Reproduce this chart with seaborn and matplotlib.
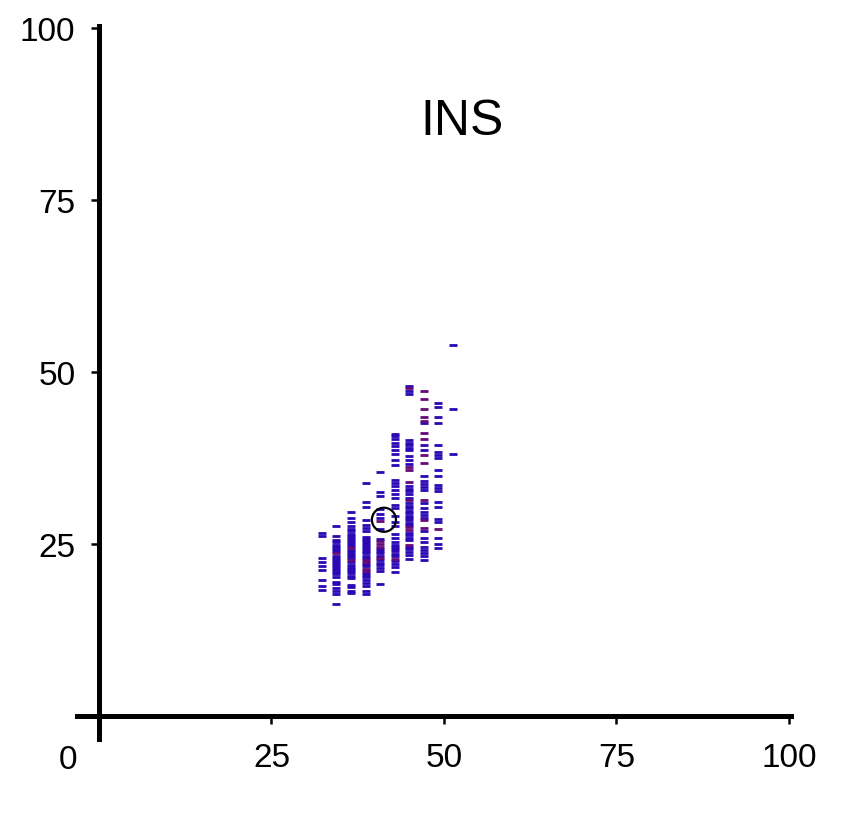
import matplotlib
matplotlib.use("Agg")
import matplotlib.pyplot as plt
import seaborn as sns
import pandas as pd

# ---- data ----
col_x = [32.3, 34.3, 36.5, 38.7, 40.7, 42.9, 44.9, 47.1, 49.1, 51.3]

blue_y = [
    [26.6, 26.1, 23.0, 22.4, 21.8, 21.2, 19.8, 18.9, 18.3],
    [27.6, 26.2, 25.6, 25.2, 24.8, 24.5, 24.2, 23.9, 23.3, 23.0, 22.7, 22.4, 22.1,
     21.8, 21.5, 21.2, 20.9, 20.6, 20.2, 19.5, 19.1, 18.6, 18.1, 17.7, 16.2],
    [29.7, 28.8, 28.2, 27.6, 27.2, 26.8, 26.5, 26.2, 25.9, 25.6, 25.3, 25.0, 24.7,
     24.1, 23.8, 23.5, 23.2, 22.9, 22.3, 22.0, 21.7, 21.4, 21.1, 20.8, 20.4, 20.1,
     19.0, 18.7, 18.1, 17.8],
    [33.8, 31.1, 30.3, 28.5, 27.7, 27.3, 26.8, 26.0, 25.7, 25.4, 25.1, 24.8, 24.5,
     24.2, 23.9, 23.6, 23.3, 23.0, 22.1, 21.8, 20.8, 20.5, 20.2, 19.7, 19.3, 18.9,
     18.2, 17.7],
    [35.5, 32.6, 32.0, 30.0, 29.4, 28.7, 27.1, 25.7, 24.2, 23.9, 23.6, 23.3, 22.6,
     22.2, 21.9, 21.5, 21.0, 19.2],
    [41.0, 40.6, 40.2, 39.6, 39.2, 38.7, 38.1, 37.2, 36.4, 34.3, 33.8, 33.4, 32.8,
     32.3, 31.7, 30.6, 30.2, 29.1, 28.2, 27.6, 26.4, 25.8, 25.3, 24.9, 24.5, 24.2,
     23.9, 23.5, 23.2, 22.5, 22.1, 21.7, 20.9],
    [48.0, 47.2, 46.7, 40.1, 39.7, 39.3, 38.9, 38.6, 37.8, 37.2, 36.6, 33.4, 33.0,
     32.7, 32.3, 31.6, 31.0, 30.5, 30.2, 29.8, 29.5, 29.1, 28.8, 28.4, 28.1, 27.8,
     26.6, 26.3, 25.8, 25.5, 24.6, 24.2, 23.8, 23.4, 22.8],
    [42.5, 39.3, 38.7, 34.9, 34.1, 33.7, 33.2, 32.8, 31.0, 30.2, 29.6, 29.2, 28.8,
     26.8, 25.9, 25.3, 24.5, 24.1, 23.6, 23.2, 22.7],
    [45.5, 44.9, 43.4, 42.5, 39.3, 38.4, 37.9, 37.5, 35.8, 34.9, 33.6, 33.1, 32.7,
     31.1, 30.3, 28.6, 28.2, 25.9, 25.0, 24.4],
    [53.9, 44.6, 38.1],
]

purple_y = [
    [],
    [23.6],
    [24.4, 22.6],
    [22.7, 22.4, 21.4, 21.1],
    [28.3, 25.4, 25.0, 24.6, 23.0],
    [22.8],
    [47.6, 36.1, 35.7, 34.0, 31.3, 27.4, 27.0, 24.9],
    [47.2, 46.0, 44.6, 43.4, 42.9, 41.1, 40.2, 37.9, 36.7, 31.3, 28.4, 27.3],
    [27.1],
    [],
]

mean_x = [41.3]
mean_y = [28.5]

x_ticks = [25, 50, 75, 100]
y_ticks = [25, 50, 75, 100]
title = "INS"

rows = []
for cx, ys in zip(col_x, blue_y):
    rows += [(cx, y, "blue") for y in ys]
for cx, ys in zip(col_x, purple_y):
    rows += [(cx, y, "purple") for y in ys]
df = pd.DataFrame(rows, columns=["x", "y", "group"])

# ---- plot ----
sns.set_style("white")
plt.rcParams["font.family"] = ["Liberation Sans", "DejaVu Sans"]
plt.rcParams["text.color"] = "black"

fig = plt.figure(figsize=(8.57, 8.29), dpi=100)
ax = fig.add_axes([0.0898, 0.1078, 0.8331, 0.8593])

sns.scatterplot(data=df, x="x", y="y", hue="group",
                palette={"blue": "#2a08b4", "purple": "#650a78"},
                marker="_", s=34, linewidth=2.0, legend=False, ax=ax)
sns.scatterplot(x=mean_x, y=mean_y, marker="o", s=300, facecolor="none",
                edgecolor="black", linewidth=1.6, legend=False, ax=ax)

ax.set_xlim(-3.2, 100.3)
ax.set_ylim(-3.3, 100.2)
for side in ["top", "right"]:
    ax.spines[side].set_visible(False)
for side in ["left", "bottom"]:
    ax.spines[side].set_position(("data", 0))
    ax.spines[side].set_linewidth(3.6)
    ax.spines[side].set_color("black")

ax.set_xticks(x_ticks)
ax.set_yticks(y_ticks)
ax.set_xticklabels([str(t) for t in x_ticks])
ax.set_yticklabels([str(t) for t in y_ticks])
ax.tick_params(axis="both", direction="out", length=6, width=1.8,
               colors="black", labelcolor="black", labelsize=24,
               bottom=True, left=True)
ax.tick_params(axis="x", pad=13)
ax.tick_params(axis="y", pad=11)
ax.set_xlabel("")
ax.set_ylabel("")

ax.text(-4.5, -6.3, "0", fontsize=24, color="black", ha="center", va="center",
        clip_on=False)
ax.text(52.6, 86.5, title, fontsize=36, color="black", ha="center", va="center")

fig.savefig("out.png", dpi=100, facecolor="white")
